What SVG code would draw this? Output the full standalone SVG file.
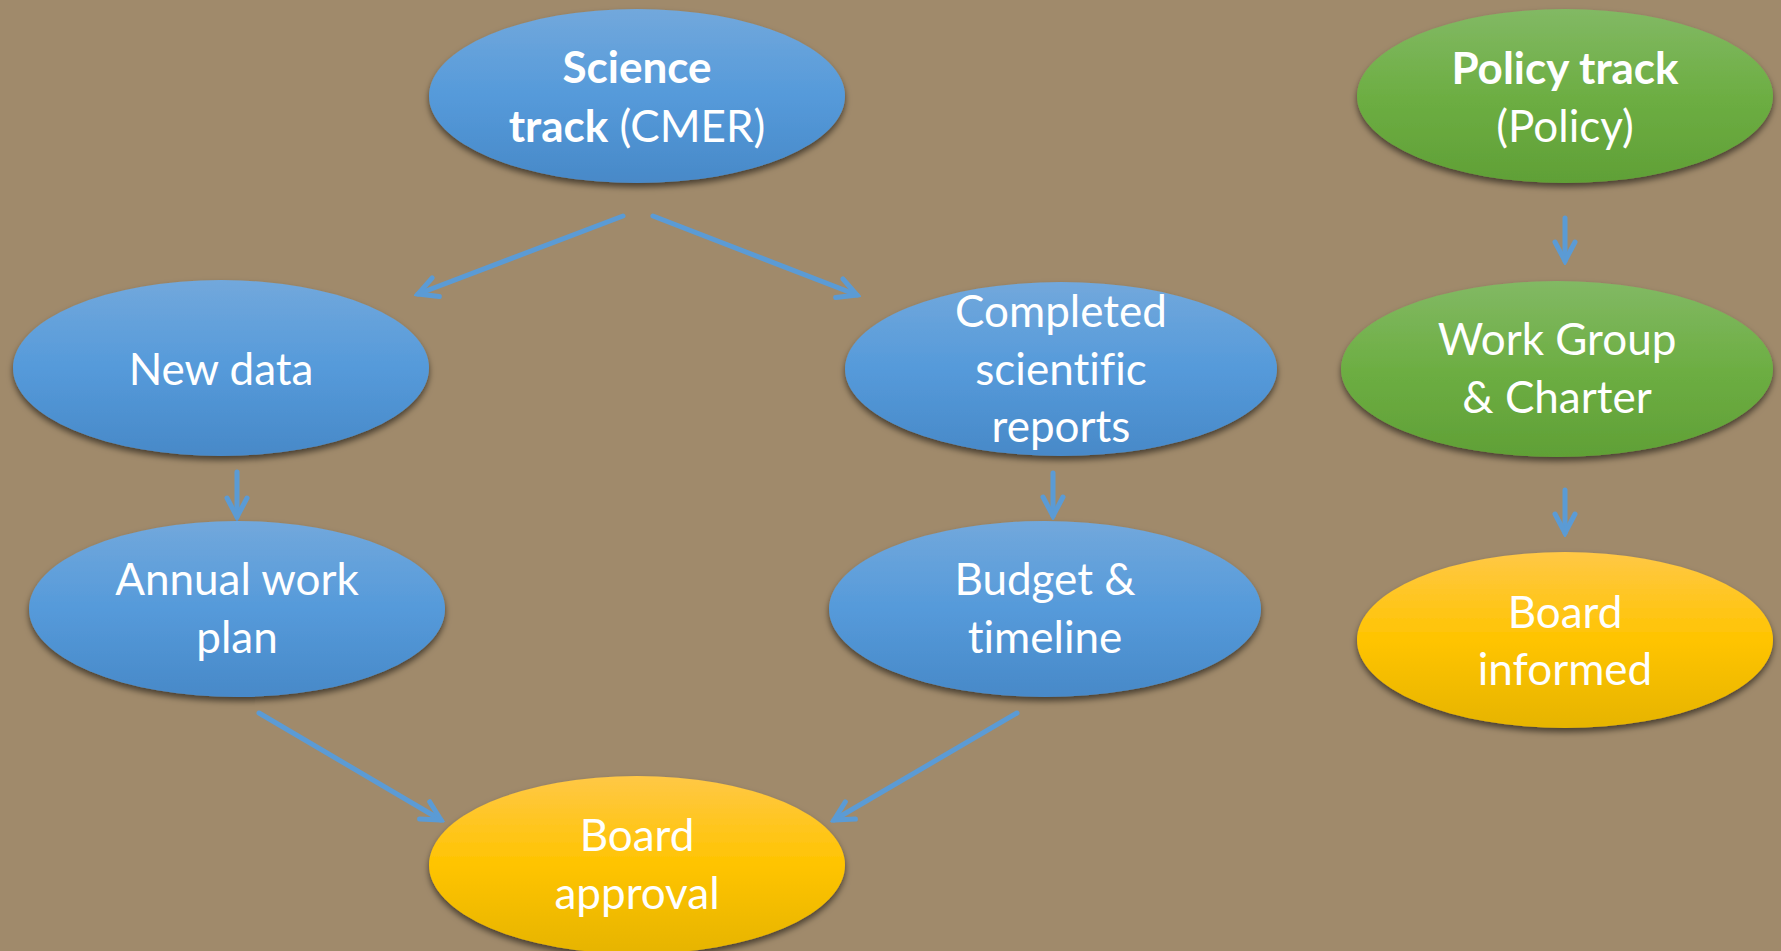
<svg xmlns="http://www.w3.org/2000/svg" width="1781" height="951" viewBox="0 0 1781 951">
<style>
  .t { font-family: Lato, "Open Sans", "Liberation Sans", sans-serif; font-size: 44px; fill: #ffffff; text-anchor: middle; font-variant-ligatures: none; }
  .b { font-weight: bold; }
  .conn { stroke: #5B9BD5; stroke-width: 5; fill: none; stroke-linecap: round; }
  .blue { fill: url(#gBlue); filter: url(#sh); }
  .green { fill: url(#gGreen); filter: url(#sh); }
  .gold { fill: url(#gGold); filter: url(#sh); }
</style>
<defs>
  <linearGradient id="gBlue" x1="0" y1="0" x2="0" y2="1">
    <stop offset="0" stop-color="#72A8DC"/>
    <stop offset="0.5" stop-color="#559ADA"/>
    <stop offset="1" stop-color="#4889C8"/>
  </linearGradient>
  <linearGradient id="gGreen" x1="0" y1="0" x2="0" y2="1">
    <stop offset="0" stop-color="#82B964"/>
    <stop offset="0.5" stop-color="#6DAE43"/>
    <stop offset="1" stop-color="#60A036"/>
  </linearGradient>
  <linearGradient id="gGold" x1="0" y1="0" x2="0" y2="1">
    <stop offset="0" stop-color="#FFC846"/>
    <stop offset="0.5" stop-color="#FFC400"/>
    <stop offset="1" stop-color="#E6B400"/>
  </linearGradient>
  <filter id="sh" x="-10%" y="-10%" width="120%" height="130%">
    <feDropShadow dx="0" dy="4" stdDeviation="3" flood-color="#000" flood-opacity="0.55"/>
  </filter>
  <marker id="ah" markerUnits="userSpaceOnUse" viewBox="-24 -14 28 28" markerWidth="28" markerHeight="28" refX="0" refY="0" orient="auto">
    <path d="M-19,-10 L0,0 L-19,10" fill="none" stroke="#5B9BD5" stroke-width="5" stroke-linecap="round" stroke-linejoin="miter"/>
  </marker>
</defs>
<rect x="0" y="0" width="1781" height="951" fill="#A08A6B"/>

<g id="connectors">
  <line class="conn" x1="623" y1="216" x2="418" y2="294" marker-end="url(#ah)"/>
  <line class="conn" x1="653" y1="216" x2="857" y2="295" marker-end="url(#ah)"/>
  <line class="conn" x1="237" y1="472" x2="237" y2="517" marker-end="url(#ah)"/>
  <line class="conn" x1="1053" y1="473" x2="1053" y2="516" marker-end="url(#ah)"/>
  <line class="conn" x1="259" y1="713" x2="441" y2="820" marker-end="url(#ah)"/>
  <line class="conn" x1="1017" y1="713" x2="834" y2="820" marker-end="url(#ah)"/>
  <line class="conn" x1="1565" y1="218" x2="1565" y2="261" marker-end="url(#ah)"/>
  <line class="conn" x1="1565" y1="490" x2="1565" y2="533" marker-end="url(#ah)"/>
</g>

<g id="science">
  <ellipse class="blue" cx="637" cy="96" rx="208" ry="87"/>
  <text class="t" x="637" y="83"><tspan class="b">Science</tspan></text>
  <text class="t" x="637" y="142"><tspan class="b">track</tspan> (CMER)</text>
</g>
<g id="policy">
  <ellipse class="green" cx="1565" cy="96" rx="208" ry="87"/>
  <text class="t b" x="1565" y="84">Policy track</text>
  <text class="t" x="1565" y="142">(Policy)</text>
</g>
<g id="newdata">
  <ellipse class="blue" cx="221" cy="368" rx="208" ry="88"/>
  <text class="t" x="221" y="385">New data</text>
</g>
<g id="completed">
  <ellipse class="blue" cx="1061" cy="369" rx="216" ry="87"/>
  <text class="t" x="1061" y="327">Completed</text>
  <text class="t" x="1061" y="385">scientific</text>
  <text class="t" x="1061" y="442">reports</text>
</g>
<g id="workgroup">
  <ellipse class="green" cx="1557" cy="369" rx="216" ry="88"/>
  <text class="t" x="1557" y="355">Work Group</text>
  <text class="t" x="1557" y="413">&amp; Charter</text>
</g>
<g id="annual">
  <ellipse class="blue" cx="237" cy="609" rx="208" ry="88"/>
  <text class="t" x="237" y="595">Annual work</text>
  <text class="t" x="237" y="653">plan</text>
</g>
<g id="budget">
  <ellipse class="blue" cx="1045" cy="609" rx="216" ry="88"/>
  <text class="t" x="1045" y="595">Budget &amp;</text>
  <text class="t" x="1045" y="653">timeline</text>
</g>
<g id="informed">
  <ellipse class="gold" cx="1565" cy="640" rx="208" ry="88"/>
  <text class="t" x="1565" y="628">Board</text>
  <text class="t" x="1565" y="685">informed</text>
</g>
<g id="approval">
  <ellipse class="gold" cx="637" cy="865" rx="208" ry="89"/>
  <text class="t" x="637" y="851">Board</text>
  <text class="t" x="637" y="909">approval</text>
</g>
</svg>
